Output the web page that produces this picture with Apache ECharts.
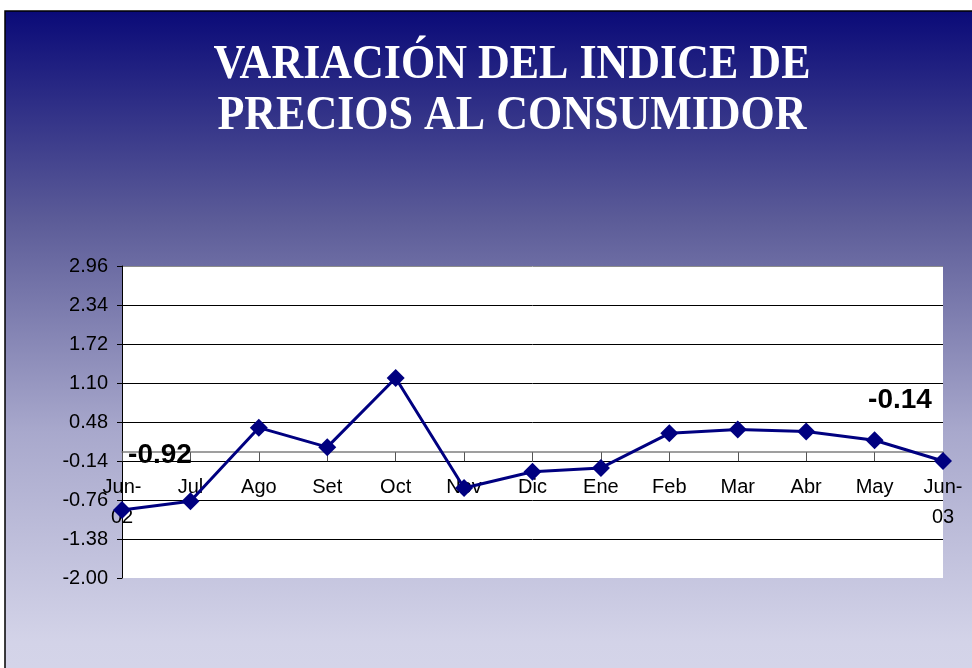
<!DOCTYPE html>
<html>
<head>
<meta charset="utf-8">
<script src="https://cdn.jsdelivr.net/npm/echarts@6/dist/echarts.min.js"></script>
<style>
html,body{margin:0;padding:0;background:#fff;}
#main{width:972px;height:668px;}
</style>
</head>
<body>
<div id="main"></div>
<script>
// datos
var meses = ['Jun-02','Jul','Ago','Set','Oct','Nov','Dic','Ene','Feb','Mar','Abr','May','Jun-03'];
var variacion = [-0.92,-0.78,0.39,0.08,1.18,-0.57,-0.31,-0.25,0.30,0.36,0.33,0.19,-0.14];
var yTicks = [-2.00,-1.38,-0.76,-0.14,0.48,1.10,1.72,2.34,2.96];
var titulo = 'VARIACIÓN DEL INDICE DE\nPRECIOS AL CONSUMIDOR';

var chart = echarts.init(document.getElementById('main'));

var datos = variacion.map(function(v, i){
    var d = {value: v};
    if(i == 0){
        d.label = {show: true, offset: [38, -55]};
    }else if(i == variacion.length - 1){
        d.label = {show: true, offset: [-43, -61]};
    }
    return d;
});

// color de cada linea de la grilla (la de abajo no se ve, la de arriba gris)
var gridColors = yTicks.map(function(t, i){
    if(i == 0) return 'rgba(0,0,0,0)';
    if(i == yTicks.length - 1) return '#8c8c8c';
    return '#000';
});

var gridBottom = 90;

var option = {
    animation: false,
    graphic: [
        {
            type: 'rect', z: -100,
            shape: {x: 5, y: 11, width: 1000, height: 700},
            style: {
                fill: {type: 'linear', x: 0, y: 0, x2: 0, y2: 1, colorStops: [
                    {offset: 0, color: '#0a0a78'},
                    {offset: 0.3, color: '#5c5c98'},
                    {offset: 0.6, color: '#a8a8cc'},
                    {offset: 0.9, color: '#d3d3e8'},
                    {offset: 1, color: '#d6d6ea'}
                ]},
                stroke: '#000', lineWidth: 1.5
            }
        },
        {
            type: 'text', x: 512, y: 91, scaleY: 1.1,
            style: {
                text: titulo, fill: '#fff',
                fontSize: 44, fontWeight: 'bold', fontFamily: '"Liberation Serif", "Times New Roman", serif',
                align: 'center', verticalAlign: 'middle', lineHeight: 47
            }
        }
    ],
    grid: {
        left: 122, top: 266, right: 29, bottom: gridBottom,
        show: true, backgroundColor: '#fff', borderWidth: 0
    },
    xAxis: {
        type: 'category',
        data: meses,
        boundaryGap: false,
        axisLine: {onZero: false, lineStyle: {color: '#808080', width: 1.5}},
        axisTick: {show: true, length: 9, lineStyle: {color: '#555'}},
        axisLabel: {
            color: '#000', fontSize: 20, fontFamily: 'Arial, "Liberation Sans", sans-serif',
            lineHeight: 30, margin: 20, interval: 0,
            formatter: function(v){ return v.replace('-', '-\n'); }
        },
        splitLine: {show: false}
    },
    yAxis: {
        type: 'value',
        min: yTicks[0],
        max: yTicks[yTicks.length - 1],
        interval: +(yTicks[1] - yTicks[0]).toFixed(2),
        axisLine: {show: true, lineStyle: {color: '#000', width: 1}},
        axisTick: {show: true, length: 5, lineStyle: {color: '#000'}},
        axisLabel: {
            color: '#000', fontSize: 20, fontFamily: 'Arial, "Liberation Sans", sans-serif',
            margin: 14,
            formatter: function(v){ return v.toFixed(2); }
        },
        splitLine: {show: true, lineStyle: {color: gridColors, width: 1}}
    },
    series: [{
        type: 'line',
        data: datos,
        symbol: 'diamond',
        symbolSize: 18,
        itemStyle: {color: '#000080'},
        lineStyle: {color: '#000080', width: 3},
        label: {
            show: false, position: 'inside',
            color: '#000', fontSize: 28, fontWeight: 'bold',
            fontFamily: 'Arial, "Liberation Sans", sans-serif',
            formatter: function(p){ return p.value.toFixed(2); }
        }
    }]
};

chart.setOption(option);

// el eje de categorias cruza en 0: se mueve el eje (linea y etiquetas) hasta ahi
var yCero = chart.convertToPixel({yAxisIndex: 0}, 0);
var yFondo = 668 - gridBottom;
chart.setOption({xAxis: {offset: yCero - yFondo}});
</script>
</body>
</html>
